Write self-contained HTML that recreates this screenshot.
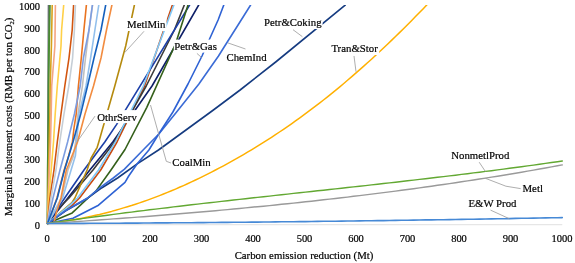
<!DOCTYPE html>
<html><head><meta charset="utf-8"><title>chart</title>
<style>
html,body{margin:0;padding:0;background:#fff;}
svg{display:block;font-family:"Liberation Serif",serif;font-size:10.5px;}
.ln polyline{fill:none;stroke-linejoin:round;stroke-linecap:round;}
.ld polyline{fill:none;}
text{fill:#000;stroke:#000;stroke-width:0.2px;}
.tx{filter:url(#nf);}
.lb{font-size:10.8px;}
</style></head><body>
<svg width="575" height="263" viewBox="0 0 575 263">
<rect width="575" height="263" fill="#fff"/>
<defs><filter id="nf" x="0" y="0" width="575" height="263" filterUnits="userSpaceOnUse"><feOffset dx="0" dy="0"/></filter><clipPath id="c"><rect x="46" y="5.0" width="520" height="221"/></clipPath></defs>
<line x1="47" y1="224.7" x2="562.3" y2="224.7" stroke="#e0e0e0" stroke-width="1"/>
<g class="ln" clip-path="url(#c)">
<polyline points="47.5,223.5 67.9,198.0 89.8,170.0 112.8,142.0 152.0,86.0 198.7,5.0" stroke="#0e1f68" stroke-width="1.6"/>
<polyline points="47.5,223.5 71.5,206.0 79.5,198.0 100.7,170.0 117.0,142.0 144.5,86.0 172.4,5.0" stroke="#c84a10" stroke-width="1.6"/>
<polyline points="47.5,223.5 52.0,215.0 69.0,198.0 93.0,170.0 114.5,142.0 146.2,86.0 174.4,30.0 184.3,5.0" stroke="#3a3a3a" stroke-width="1.6"/>
<polyline points="47.5,223.5 64.7,198.0 84.0,170.0 104.8,142.0 116.5,124.6 189.6,5.0" stroke="#1c3fa8" stroke-width="1.6"/>
<polyline points="47.5,223.5 72.2,202.3 74.9,198.0 87.1,170.0 90.9,158.5 97.2,147.3 98.8,142.0 114.8,86.0 125.7,46.0 134.4,5.0" stroke="#b58a0e" stroke-width="1.6"/>
<polyline points="47.5,223.5 72.2,212.9 88.1,198.0 95.7,191.4 111.0,170.0 125.0,149.5 146.8,107.3 175.5,44.0 188.0,5.0" stroke="#34601a" stroke-width="1.6"/>
<polyline points="47.5,223.5 65.3,211.0 87.6,198.2 102.0,187.7 117.6,178.0 137.2,163.8 158.5,150.0 213.4,110.0 240.1,90.0 275.7,62.0 345.2,5.1" stroke="#153b80" stroke-width="1.6"/>
<polyline points="47.5,223.5 70.0,205.2 77.5,198.0 98.5,170.0 115.3,142.0 143.3,86.0 173.9,5.0" stroke="#80c8f8" stroke-width="1.6"/>
<polyline points="47.5,223.5 65.3,210.8 87.6,198.0 100.0,187.6 113.3,178.0 124.5,169.1 143.1,150.0 158.4,134.5 176.6,112.0 198.9,84.0 218.5,56.0 223.5,48.0 241.2,20.0 250.6,5.0" stroke="#3a6bd6" stroke-width="1.6"/>
<polyline points="47.5,223.5 48.3,5.0" stroke="#5a5a6e" stroke-width="1.2"/>
<polyline points="47.5,223.5 57.0,198.0 64.2,170.0 68.6,156.0 72.4,142.0 74.0,128.0 76.2,114.0 78.4,86.0 81.3,58.0 83.9,30.0 86.4,5.0" stroke="#e97320" stroke-width="1.6"/>
<polyline points="47.5,223.5 47.8,170.0 48.2,142.0 48.5,114.0 48.6,86.0 49.0,46.0 49.8,5.0" stroke="#4a8a34" stroke-width="2.0"/>
<polyline points="47.5,223.5 48.6,170.0 49.2,142.0 49.9,114.0 50.2,86.0 51.4,46.0 52.2,5.0" stroke="#d6a21c" stroke-width="1.6"/>
<polyline points="47.5,223.5 49.3,170.0 50.5,142.0 51.2,114.0 51.7,86.0 54.9,46.0 55.4,5.0" stroke="#f4a582" stroke-width="1.6"/>
<polyline points="47.5,223.5 48.8,198.0 51.2,170.0 53.5,142.0 55.2,114.0 57.3,86.0 61.0,46.0 61.6,30.0 63.7,5.0" stroke="#ffd047" stroke-width="1.6"/>
<polyline points="47.5,223.5 49.9,198.0 54.0,170.0 57.3,142.0 61.0,114.0 64.8,86.0 69.0,58.0 72.2,30.0 73.6,5.0" stroke="#d2550f" stroke-width="1.6"/>
<polyline points="47.5,223.5 51.0,198.0 56.0,170.0 59.7,142.0 64.0,114.0 68.8,86.0 72.6,58.0 74.4,30.0 75.4,5.0" stroke="#c6ced6" stroke-width="1.6"/>
<polyline points="47.5,223.5 61.5,198.0 67.9,170.0 73.4,156.0 75.6,142.0 78.0,114.0 82.4,86.0 85.5,58.0 89.0,30.0 92.6,5.0" stroke="#bfbfbf" stroke-width="1.6"/>
<polyline points="47.5,223.5 53.0,198.0 60.0,170.0 67.6,142.0 74.4,114.0 80.2,86.0 83.4,58.0 89.0,30.0 92.4,5.0" stroke="#7d9de0" stroke-width="1.6"/>
<polyline points="47.5,223.5 62.6,198.0 71.1,170.0 75.4,155.8 76.7,142.0 79.0,114.0 86.0,86.0 90.6,58.0 94.9,30.0 98.8,5.0" stroke="#93c0ec" stroke-width="1.6"/>
<polyline points="47.5,223.5 57.3,198.0 64.5,170.0 73.0,142.0 80.7,114.0 87.5,86.0 94.0,58.0 101.0,30.0 105.7,5.0" stroke="#1560bd" stroke-width="1.6"/>
<polyline points="47.5,223.5 54.0,222.5 56.2,213.0 61.0,198.0 66.3,170.0 68.0,166.0 77.5,142.0 85.0,114.0 93.5,86.0 101.0,58.0 106.5,30.0 111.9,5.0" stroke="#f28c40" stroke-width="1.6"/>
<polyline points="47.5,223.5 73.0,218.3 98.5,205.2 125.0,182.3 128.7,176.0 137.2,163.8 148.9,150.0 158.4,134.5 172.9,112.0 188.0,84.0 202.0,56.0 209.0,40.2 218.1,20.0 223.8,5.0" stroke="#2e62d4" stroke-width="1.6"/>
<polyline points="47.5,223.5 51.5,223.0 55.5,222.5 59.5,222.0 63.5,221.4 67.5,220.8 71.5,220.1 75.5,219.4 79.5,218.7 83.5,217.9 87.5,217.1 91.5,216.2 95.5,215.3 99.5,214.4 103.5,213.4 107.5,212.4 111.5,211.4 115.5,210.3 119.5,209.1 123.5,207.9 127.5,206.7 131.5,205.5 135.5,204.2 139.5,202.9 143.5,201.5 147.5,200.1 151.5,198.6 155.5,197.1 159.5,195.6 163.5,194.0 167.5,192.4 171.5,190.8 175.5,189.1 179.5,187.3 183.5,185.6 187.5,183.8 191.5,181.9 195.5,180.0 199.5,178.1 203.5,176.1 207.5,174.1 211.5,172.1 215.5,170.0 219.5,167.9 223.5,165.8 227.5,163.6 231.5,161.4 235.5,159.2 239.5,156.9 243.5,154.6 247.5,152.2 251.5,149.8 255.5,147.4 259.5,144.9 263.5,142.4 267.5,139.9 271.5,137.3 275.5,134.7 279.5,132.0 283.5,129.3 287.5,126.6 291.5,123.8 295.5,120.9 299.5,118.1 303.5,115.2 307.5,112.2 311.5,109.2 315.5,106.2 319.5,103.1 323.5,100.0 327.5,96.8 331.5,93.6 335.5,90.4 339.5,87.1 343.5,83.7 347.5,80.3 351.5,76.9 355.5,73.4 359.5,69.9 363.5,66.4 367.5,62.8 371.5,59.2 375.5,55.5 379.5,51.8 383.5,48.0 387.5,44.2 391.5,40.4 395.5,36.5 399.5,32.6 403.5,28.7 407.5,24.7 411.5,20.7 415.5,16.6 419.5,12.5 423.5,8.4 427.5,4.2 431.5,-0.0" stroke="#ffb000" stroke-width="1.5"/>
<polyline points="47.5,223.5 53.5,222.6 59.5,221.8 65.5,220.9 71.5,220.1 77.5,219.2 83.5,218.4 89.5,217.6 95.5,216.8 101.5,216.0 107.5,215.2 113.5,214.4 119.5,213.6 125.5,212.8 131.5,212.1 137.5,211.3 143.5,210.6 149.5,209.8 155.5,209.1 161.5,208.4 167.5,207.7 173.5,206.9 179.5,206.2 185.5,205.5 191.5,204.8 197.5,204.1 203.5,203.4 209.5,202.8 215.5,202.1 221.5,201.4 227.5,200.7 233.5,200.0 239.5,199.4 245.5,198.7 251.5,198.0 257.5,197.4 263.5,196.7 269.5,196.1 275.5,195.4 281.5,194.7 287.5,194.1 293.5,193.4 299.5,192.8 305.5,192.1 311.5,191.5 317.5,190.8 323.5,190.2 329.5,189.5 335.5,188.9 341.5,188.2 347.5,187.5 353.5,186.9 359.5,186.2 365.5,185.6 371.5,184.9 377.5,184.2 383.5,183.5 389.5,182.9 395.5,182.2 401.5,181.5 407.5,180.8 413.5,180.1 419.5,179.4 425.5,178.7 431.5,178.0 437.5,177.3 443.5,176.6 449.5,175.9 455.5,175.2 461.5,174.4 467.5,173.7 473.5,172.9 479.5,172.2 485.5,171.4 491.5,170.7 497.5,169.9 503.5,169.1 509.5,168.3 515.5,167.5 521.5,166.7 527.5,165.9 533.5,165.1 539.5,164.2 545.5,163.4 551.5,162.5 557.5,161.7 562.3,161.0" stroke="#62a832" stroke-width="1.45"/>
<polyline points="47.5,223.5 53.5,223.1 59.5,222.7 65.5,222.3 71.5,221.9 77.5,221.5 83.5,221.1 89.5,220.6 95.5,220.2 101.5,219.8 107.5,219.4 113.5,218.9 119.5,218.5 125.5,218.0 131.5,217.6 137.5,217.1 143.5,216.7 149.5,216.2 155.5,215.7 161.5,215.2 167.5,214.8 173.5,214.3 179.5,213.8 185.5,213.3 191.5,212.8 197.5,212.2 203.5,211.7 209.5,211.2 215.5,210.7 221.5,210.1 227.5,209.6 233.5,209.0 239.5,208.5 245.5,207.9 251.5,207.3 257.5,206.7 263.5,206.2 269.5,205.6 275.5,205.0 281.5,204.3 287.5,203.7 293.5,203.1 299.5,202.5 305.5,201.8 311.5,201.2 317.5,200.5 323.5,199.8 329.5,199.1 335.5,198.5 341.5,197.8 347.5,197.1 353.5,196.3 359.5,195.6 365.5,194.9 371.5,194.1 377.5,193.4 383.5,192.6 389.5,191.9 395.5,191.1 401.5,190.3 407.5,189.5 413.5,188.7 419.5,187.9 425.5,187.0 431.5,186.2 437.5,185.3 443.5,184.5 449.5,183.6 455.5,182.7 461.5,181.8 467.5,180.9 473.5,180.0 479.5,179.0 485.5,178.1 491.5,177.1 497.5,176.2 503.5,175.2 509.5,174.2 515.5,173.2 521.5,172.2 527.5,171.1 533.5,170.1 539.5,169.0 545.5,168.0 551.5,166.9 557.5,165.8 562.3,164.9" stroke="#9a9a9a" stroke-width="1.45"/>
<polyline points="47.5,223.5 53.5,223.5 59.5,223.5 65.5,223.4 71.5,223.4 77.5,223.4 83.5,223.4 89.5,223.3 95.5,223.3 101.5,223.3 107.5,223.2 113.5,223.2 119.5,223.2 125.5,223.1 131.5,223.1 137.5,223.1 143.5,223.0 149.5,223.0 155.5,222.9 161.5,222.9 167.5,222.9 173.5,222.8 179.5,222.8 185.5,222.7 191.5,222.7 197.5,222.6 203.5,222.6 209.5,222.5 215.5,222.5 221.5,222.4 227.5,222.4 233.5,222.3 239.5,222.3 245.5,222.2 251.5,222.1 257.5,222.1 263.5,222.0 269.5,222.0 275.5,221.9 281.5,221.8 287.5,221.8 293.5,221.7 299.5,221.6 305.5,221.6 311.5,221.5 317.5,221.4 323.5,221.3 329.5,221.3 335.5,221.2 341.5,221.1 347.5,221.0 353.5,221.0 359.5,220.9 365.5,220.8 371.5,220.7 377.5,220.6 383.5,220.6 389.5,220.5 395.5,220.4 401.5,220.3 407.5,220.2 413.5,220.1 419.5,220.0 425.5,219.9 431.5,219.9 437.5,219.8 443.5,219.7 449.5,219.6 455.5,219.5 461.5,219.4 467.5,219.3 473.5,219.2 479.5,219.1 485.5,219.0 491.5,218.9 497.5,218.8 503.5,218.7 509.5,218.6 515.5,218.4 521.5,218.3 527.5,218.2 533.5,218.1 539.5,218.0 545.5,217.9 551.5,217.8 557.5,217.7 562.3,217.6" stroke="#4689d6" stroke-width="1.6"/>
</g>
<g>
<rect x="263.5" y="16.0" width="59.1" height="13" fill="#fff"/>
<rect x="330.9" y="42.0" width="48.3" height="13" fill="#fff"/>
<rect x="450.7" y="148.5" width="59.7" height="13" fill="#fff"/>
<rect x="522.0" y="181.8" width="21.9" height="13" fill="#fff"/>
<rect x="467.9" y="197.0" width="49.8" height="13" fill="#fff"/>
<rect x="126.6" y="18.0" width="39.9" height="13" fill="#fff"/>
<rect x="173.8" y="39.6" width="44.1" height="13" fill="#fff"/>
<rect x="226.0" y="50.6" width="41.7" height="13" fill="#fff"/>
<rect x="96.8" y="110.1" width="41.1" height="13" fill="#fff"/>
<rect x="171.8" y="155.6" width="39.9" height="13" fill="#fff"/>
</g>
<g class="ld">
<polyline points="293.0,29.7 302.4,36.7" stroke="#999" stroke-width="0.8"/>
<polyline points="354.0,56.0 356.0,71.7" stroke="#999" stroke-width="0.8"/>
<polyline points="227.9,42.9 245.5,49.0" stroke="#999" stroke-width="0.8"/>
<polyline points="479.2,162.2 485.4,171.5" stroke="#999" stroke-width="0.8"/>
<polyline points="485.4,178.3 505.9,186.2 520.6,188.6" stroke="#999" stroke-width="0.8"/>
<polyline points="490.5,210.1 509.3,218.7" stroke="#999" stroke-width="0.8"/>
<polyline points="150.5,105.0 166.3,161.3 171.0,163.0" stroke="#999" stroke-width="0.8"/>
<polyline points="95.0,116.1 77.0,142.0" stroke="#999" stroke-width="0.8"/>
<polyline points="144.0,31.3 124.7,52.6" stroke="#999" stroke-width="0.8"/>
<polyline points="196.9,53.4 201.7,57.6" stroke="#999" stroke-width="0.8"/>
</g>
<g class="tx">
<text class="lb" transform="translate(264 26.4) scale(1 1.03)">Petr&amp;Coking</text>
<text class="lb" transform="translate(331.4 52.4) scale(1 1.03)">Tran&amp;Stor</text>
<text class="lb" transform="translate(451.2 158.9) scale(1 1.03)">NonmetlProd</text>
<text class="lb" transform="translate(522.5 192.2) scale(1 1.03)">Metl</text>
<text class="lb" transform="translate(468.4 207.4) scale(1 1.03)">E&amp;W Prod</text>
<text class="lb" transform="translate(127.1 28.4) scale(1 1.03)">MetlMin</text>
<text class="lb" transform="translate(174.3 50.0) scale(1 1.03)">Petr&amp;Gas</text>
<text class="lb" transform="translate(226.5 61.0) scale(1 1.03)">ChemInd</text>
<text class="lb" transform="translate(97.3 120.5) scale(1 1.03)">OthrServ</text>
<text class="lb" transform="translate(172.3 166.0) scale(1 1.03)">CoalMin</text>
<text transform="translate(47.0 241.9) scale(1 1.03)" text-anchor="middle">0</text>
<text transform="translate(40 228.7) scale(1 1.03)" text-anchor="end">0</text>
<text transform="translate(98.5 241.9) scale(1 1.03)" text-anchor="middle">100</text>
<text transform="translate(40 206.8) scale(1 1.03)" text-anchor="end">100</text>
<text transform="translate(150.0 241.9) scale(1 1.03)" text-anchor="middle">200</text>
<text transform="translate(40 184.9) scale(1 1.03)" text-anchor="end">200</text>
<text transform="translate(201.5 241.9) scale(1 1.03)" text-anchor="middle">300</text>
<text transform="translate(40 163.0) scale(1 1.03)" text-anchor="end">300</text>
<text transform="translate(253.0 241.9) scale(1 1.03)" text-anchor="middle">400</text>
<text transform="translate(40 141.1) scale(1 1.03)" text-anchor="end">400</text>
<text transform="translate(304.5 241.9) scale(1 1.03)" text-anchor="middle">500</text>
<text transform="translate(40 119.2) scale(1 1.03)" text-anchor="end">500</text>
<text transform="translate(356.0 241.9) scale(1 1.03)" text-anchor="middle">600</text>
<text transform="translate(40 97.3) scale(1 1.03)" text-anchor="end">600</text>
<text transform="translate(407.5 241.9) scale(1 1.03)" text-anchor="middle">700</text>
<text transform="translate(40 75.4) scale(1 1.03)" text-anchor="end">700</text>
<text transform="translate(459.0 241.9) scale(1 1.03)" text-anchor="middle">800</text>
<text transform="translate(40 53.5) scale(1 1.03)" text-anchor="end">800</text>
<text transform="translate(510.5 241.9) scale(1 1.03)" text-anchor="middle">900</text>
<text transform="translate(40 31.6) scale(1 1.03)" text-anchor="end">900</text>
<text transform="translate(562.0 241.9) scale(1 1.03)" text-anchor="middle">1000</text>
<text transform="translate(40 9.7) scale(1 1.03)" text-anchor="end">1000</text>
<text class="lb" transform="translate(304 258.8) scale(1 1.03)" text-anchor="middle">Carbon emission reduction (Mt)</text>
<text class="lb" transform="translate(12.2,116.8) rotate(-90) scale(1 1.03)" text-anchor="middle">Marginal abatement costs (RMB per ton CO<tspan font-size="6.5" dy="2">2</tspan><tspan dy="-2">)</tspan></text>
</g>
</svg>
</body></html>
